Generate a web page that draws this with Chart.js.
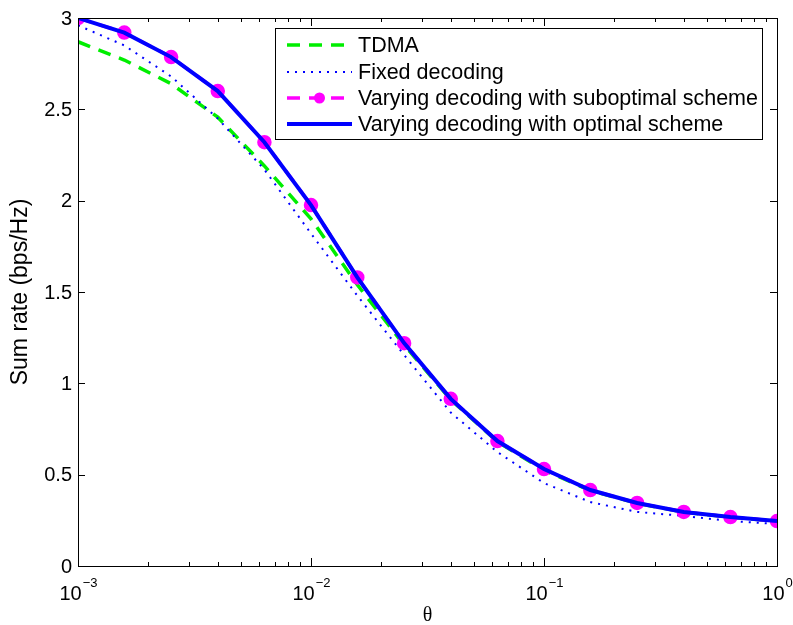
<!DOCTYPE html>
<html lang="en">
  <head>
    <meta charset="UTF-8" />
    <title>Sum rate vs theta</title>
    <script src="https://cdn.jsdelivr.net/npm/chart.js"></script>
    <style>
      html, body { margin: 0; padding: 0; background: #fff; }
      #wrap { width: 793px; height: 625px; }
    </style>
  </head>
  <body>
    <div id="wrap"><canvas id="sumRate"></canvas></div>

    <script>
      // values
      const theta = [0.001, 0.00158, 0.00251, 0.00398, 0.00631, 0.01, 0.0158, 0.0251,
                     0.0398, 0.0631, 0.1, 0.158, 0.251, 0.398, 0.631, 1];
      const tdma = [2.87, 2.77, 2.64, 2.457, 2.19, 1.9, 1.54, 1.21,
                    0.91, 0.68, 0.525, 0.413, 0.343, 0.295, 0.267, 0.245];
      const fixedDec = [2.96, 2.85, 2.68, 2.45, 2.17, 1.82, 1.48, 1.155,
                        0.84, 0.624, 0.454, 0.35, 0.296, 0.274, 0.246, 0.23];
      const subopt = [3.0, 2.92, 2.786, 2.6, 2.32, 1.976, 1.58, 1.22,
                      0.915, 0.684, 0.531, 0.416, 0.345, 0.296, 0.268, 0.246];
      const optimal = [3.0, 2.92, 2.786, 2.6, 2.32, 1.976, 1.58, 1.22,
                       0.915, 0.684, 0.531, 0.416, 0.345, 0.296, 0.268, 0.246];

      const yTicks = [0, 0.5, 1, 1.5, 2, 2.5, 3];
      const yTickLabels = ["0", "0.5", "1", "1.5", "2", "2.5", "3"];
      const xDecades = [0.001, 0.01, 0.1, 1];
      const xExponents = ["\u22123", "\u22122", "\u22121", "0"];
      const legendLabels = [
        "TDMA",
        "Fixed decoding",
        "Varying decoding with suboptimal scheme",
        "Varying decoding with optimal scheme",
      ];

      const FONT = "Liberation Sans, Arial, sans-serif";

      const pts = (ys) => theta.map((t, i) => ({ x: t, y: ys[i] }));

      // axes box, inward ticks, labels, legend (MATLAB look)
      const matlabFrame = {
        id: "matlabFrame",
        afterDraw(chart) {
          const ctx = chart.ctx;
          const a = chart.chartArea;
          const xs = chart.scales.x;
          const ys = chart.scales.y;
          ctx.save();
          ctx.strokeStyle = "#000";
          ctx.lineWidth = 1;
          ctx.strokeRect(a.left + 0.5, a.top + 0.5, a.right - a.left, a.bottom - a.top);

          ctx.beginPath();
          // y ticks
          yTicks.forEach((v) => {
            const py = Math.round(ys.getPixelForValue(v)) + 0.5;
            ctx.moveTo(a.left, py); ctx.lineTo(a.left + 7, py);
            ctx.moveTo(a.right, py); ctx.lineTo(a.right - 7, py);
          });
          // x ticks, major and minor
          xDecades.forEach((d, i) => {
            const px = Math.round(xs.getPixelForValue(d)) + 0.5;
            ctx.moveTo(px, a.bottom); ctx.lineTo(px, a.bottom - 8);
            ctx.moveTo(px, a.top); ctx.lineTo(px, a.top + 8);
            if (i < xDecades.length - 1) {
              for (let m = 2; m <= 9; m++) {
                const mx = Math.round(xs.getPixelForValue(d * m)) + 0.5;
                ctx.moveTo(mx, a.bottom); ctx.lineTo(mx, a.bottom - 4);
                ctx.moveTo(mx, a.top); ctx.lineTo(mx, a.top + 4);
              }
            }
          });
          ctx.stroke();

          // y labels
          ctx.fillStyle = "#000";
          ctx.font = "20px " + FONT;
          ctx.textAlign = "right";
          ctx.textBaseline = "middle";
          yTicks.forEach((v, i) => {
            ctx.fillText(yTickLabels[i], a.left - 6, ys.getPixelForValue(v) + 1);
          });

          // x labels 10^n
          xDecades.forEach((d, i) => {
            const px = xs.getPixelForValue(d);
            ctx.font = "20px " + FONT;
            const wb = ctx.measureText("10").width;
            ctx.font = "13px " + FONT;
            const we = ctx.measureText(xExponents[i]).width;
            const x0 = px - (wb + we) / 2;
            ctx.textAlign = "left";
            ctx.textBaseline = "alphabetic";
            ctx.font = "20px " + FONT;
            ctx.fillText("10", x0, a.bottom + 34);
            ctx.font = "13px " + FONT;
            ctx.fillText(xExponents[i], x0 + wb + 1, a.bottom + 21);
          });

          // axis titles
          ctx.textAlign = "center";
          ctx.textBaseline = "middle";
          ctx.font = "20px Liberation Serif, serif";
          ctx.fillText("\u03b8", (a.left + a.right) / 2, a.bottom + 50);
          ctx.font = "23px " + FONT;
          ctx.save();
          ctx.translate(21, (a.top + a.bottom) / 2);
          ctx.rotate(-Math.PI / 2);
          ctx.fillText("Sum rate (bps/Hz)", 0, 0);
          ctx.restore();

          // legend
          const lx = 275, ly = 28, lw = 487, lh = 111;
          ctx.fillStyle = "#fff";
          ctx.fillRect(lx, ly, lw, lh);
          ctx.strokeStyle = "#000";
          ctx.lineWidth = 1;
          ctx.strokeRect(lx + 0.5, ly + 0.5, lw, lh);
          const rows = [45, 72, 98, 124];
          chart.data.datasets.forEach((ds, i) => {
            const y = rows[i];
            ctx.save();
            ctx.strokeStyle = ds.borderColor;
            ctx.lineWidth = ds.borderWidth;
            ctx.setLineDash(ds.borderDash || []);
            ctx.beginPath();
            ctx.moveTo(287, y);
            ctx.lineTo(352, y);
            ctx.stroke();
            if (ds.pointRadius > 0) {
              ctx.setLineDash([]);
              ctx.fillStyle = ds.pointBackgroundColor;
              ctx.beginPath();
              ctx.arc(319.5, y, ds.pointRadius, 0, Math.PI * 2);
              ctx.fill();
            }
            ctx.restore();
            ctx.fillStyle = "#000";
            ctx.font = "21.5px " + FONT;
            ctx.textAlign = "left";
            ctx.textBaseline = "middle";
            ctx.fillText(legendLabels[i], 358, y + 1);
          });
          ctx.restore();
        },
      };

      new Chart(document.getElementById("sumRate"), {
        type: "line",
        data: {
          datasets: [
            {
              label: legendLabels[0],
              data: pts(tdma),
              borderColor: "#00ee00",
              borderWidth: 3.5,
              borderDash: [13, 9],
              pointRadius: 0,
              order: 4,
            },
            {
              label: legendLabels[1],
              data: pts(fixedDec),
              borderColor: "#0000ff",
              borderWidth: 2,
              borderDash: [2, 6],
              pointRadius: 0,
              order: 3,
            },
            {
              label: legendLabels[2],
              data: pts(subopt),
              borderColor: "#ff00ff",
              borderWidth: 3.5,
              borderDash: [13, 9],
              pointRadius: 5.5,
              pointBackgroundColor: "#ff00ff",
              pointBorderColor: "#ff00ff",
              order: 2,
            },
            {
              label: legendLabels[3],
              data: pts(optimal),
              borderColor: "#0000ff",
              borderWidth: 4,
              pointRadius: 0,
              order: 1,
            },
          ],
        },
        options: {
          responsive: true,
          maintainAspectRatio: false,
          animation: false,
          layout: { padding: { left: 78, right: 16, top: 18, bottom: 59 } },
          plugins: { legend: { display: false }, tooltip: { enabled: false } },
          scales: {
            x: { type: "logarithmic", min: 0.001, max: 1, display: false },
            y: { type: "linear", min: 0, max: 3, display: false },
          },
        },
        plugins: [matlabFrame],
      });
    </script>
  </body>
</html>
